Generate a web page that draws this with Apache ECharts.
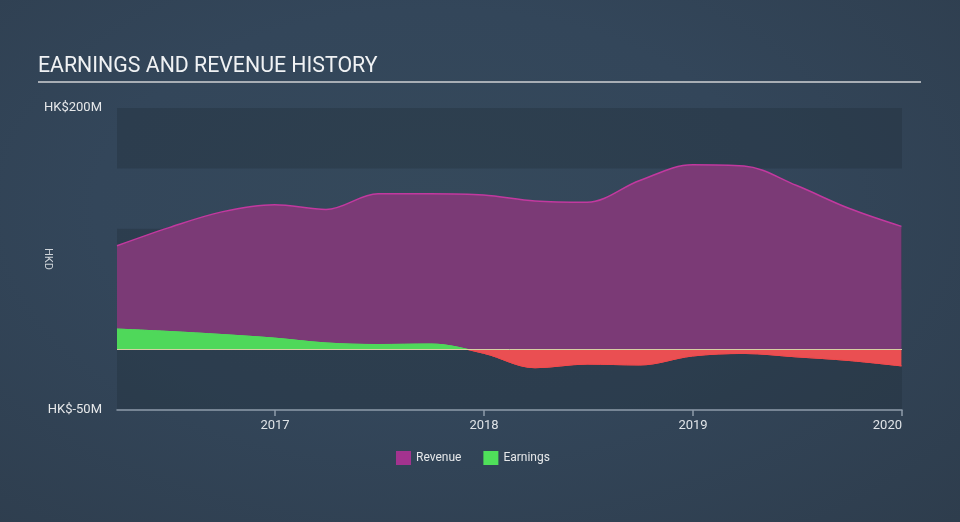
<!DOCTYPE html>
<html>
<head>
<meta charset="utf-8">
<script src="https://cdn.jsdelivr.net/npm/echarts@6/dist/echarts.min.js"></script>
<style>
html,body{margin:0;padding:0;width:960px;height:522px;overflow:hidden;
background:radial-gradient(ellipse at 45% 40%, #35495b 0%, #33465a 45%, #2e3d4d 100%);}
#c{width:960px;height:522px;}
</style>
</head>
<body>
<div id="c"></div>
<script>
const dates = ['2016-03-31','2016-06-30','2016-09-30','2016-12-31','2017-03-31','2017-06-30','2017-09-30','2017-12-31',
               '2018-03-31','2018-06-30','2018-09-30','2018-12-31','2019-03-31','2019-06-30','2019-09-30','2019-12-31'];
const revenue = [86, 101, 114, 120, 116, 129, 129, 128, 123, 122, 140, 153, 152, 136, 117, 102];
const earnings = [17, 15, 12.5, 9.5, 5.5, 4.2, 4.6, -3, -15, -12, -12.7, -5.3, -3.2, -6, -9, -13.5];
const yearTicks = ['2017-01-01','2018-01-01','2019-01-01','2020-01-01'];
const yTickLabels = [-50, 200];

const ts = d => new Date(d + 'T00:00:00Z').getTime();
const revData = dates.map((d,i)=>[ts(d), revenue[i]]);
const earnData = dates.map((d,i)=>[ts(d), earnings[i]]);

const GREEN = '#4fd85a', RED = '#ea4f52';
function splitGradient(zeroY, h, c1, c2){
  const f = zeroY / h;
  return new echarts.graphic.LinearGradient(0, 0, 0, h, [
    {offset:0, color:c1},{offset:f, color:c1},{offset:f, color:c2},{offset:1, color:c2}
  ], true);
}

const chart = echarts.init(document.getElementById('c'), null, {renderer:'canvas'});
chart.setOption({
  backgroundColor: 'transparent',
  animation: false,
  textStyle: {fontFamily: 'Roboto'},
  graphic: [
    {type:'text', left:38, top:56, style:{text:'EARNINGS AND REVENUE HISTORY', fill:'#f0f2f4', font:'21.3px Roboto'}},
    {type:'line', shape:{x1:38, y1:82, x2:921, y2:82}, style:{stroke:'#a8aeb5', lineWidth:2}}
  ],
  grid: {left:117, right:58, top:108, bottom:112, containLabel:false},
  legend: {
    bottom: 52, left: 391, itemWidth: 15, itemHeight: 14, itemGap: 22, icon: 'rect',
    textStyle: {color:'#e6e8ea', fontSize: 12, fontFamily:'Roboto'},
    data: [
      {name:'Revenue', itemStyle:{color:'#a3338f'}},
      {name:'Earnings', itemStyle:{color:'#4fe05a'}}
    ]
  },
  xAxis: {
    type: 'value',
    min: ts(dates[0]), max: ts('2020-01-01'),
    axisLine: {show:true, onZero:false, lineStyle:{color:'#8e9cab', width:1.5}},
    axisTick: {show:true, length:6, lineStyle:{color:'#8e9cab', width:1.5}, customValues: yearTicks.map(ts)},
    axisLabel: {color:'#dfe3e7', fontSize:13, margin:9, customValues: yearTicks.map(ts), alignMaxLabel:'right',
      formatter: v => String(new Date(v).getUTCFullYear())},
    splitLine: {show:false}
  },
  yAxis: {
    type: 'value', min: -50, max: 200, interval: 50,
    name: 'HKD', nameLocation: 'middle', nameGap: 64, nameRotate: -90, nameMoveOverlap: false,
    nameTextStyle: {color:'#cfd4d9', fontSize:11},
    axisLine: {show:false}, axisTick: {show:false},
    axisLabel: {color:'#e6e8ea', fontSize:13, margin:15, customValues: yTickLabels,
      formatter: v => 'HK$' + v + 'M'},
    splitLine: {show:false},
    splitArea: {show:true, areaStyle:{color:['rgba(30,42,54,0.3)','rgba(0,0,0,0)']}}
  },
  series: [
    {
      name:'Revenue', type:'line', data: revData, smooth: 0.35, symbol:'none',
      lineStyle:{color:'#c2399f', width:1.5},
      itemStyle:{color:'#a3338f'},
      areaStyle:{color:'#7b3a76', opacity:1},
      z: 2
    },
    {
      name:'Earnings', type:'line', data: earnData, smooth: 0.35, symbol:'none',
      lineStyle:{width:1, color:GREEN},
      itemStyle:{color:'#4fe05a'},
      areaStyle:{opacity:1, color:GREEN},
      z: 3,
      markLine:{silent:true, symbol:'none', label:{show:false},
        lineStyle:{color:'#efdcae', width:1, type:'solid', opacity:0.85},
        data:[{yAxis:0}]}
    }
  ]
});
const zeroY = chart.convertToPixel({yAxisIndex:0}, 0);
const H = chart.getHeight();
chart.setOption({series:[{}, {
  lineStyle:{color: splitGradient(zeroY, H, GREEN, '#f04a4c')},
  areaStyle:{color: splitGradient(zeroY, H, GREEN, RED)}
}]});
</script>
</body>
</html>
